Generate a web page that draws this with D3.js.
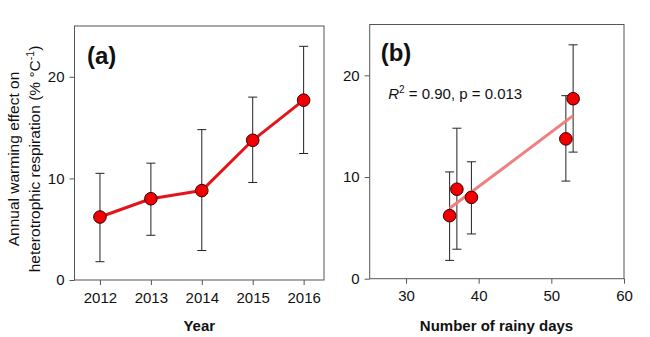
<!DOCTYPE html>
<html>
<head>
<meta charset="utf-8">
<script src="https://cdn.jsdelivr.net/npm/d3@7"></script>
<style>
  html, body { margin: 0; padding: 0; background: #fff; }
  svg { display: block; font-family: "Liberation Sans", Arial, sans-serif; }
</style>
</head>
<body>
<svg id="chart" width="650" height="337"></svg>
<script>
// Annual warming effect on heterotrophic respiration (% per °C), 2012–2016
const years = [2012, 2013, 2014, 2015, 2016];
const effect = [6.2, 8.0, 8.8, 13.75, 17.7];
const effectLow = [1.8, 4.4, 2.9, 9.6, 12.45];
const effectHigh = [10.5, 11.5, 14.8, 18.0, 23.0];
const rainyDays = [36, 39, 37, 52, 53];
const yTicks = [0, 10, 20];
const rainyTicks = [30, 40, 50, 60];
const fitText = "= 0.90, p = 0.013";

const svg = d3.select("#chart");
const frameColor = "#555";
const tickFont = "15px";

function drawFrame(g, x0, x1, y0, y1) {
  g.append("rect")
    .attr("x", x0).attr("y", y0)
    .attr("width", x1 - x0).attr("height", y1 - y0)
    .attr("fill", "none").attr("stroke", frameColor).attr("stroke-width", 1);
}

function styleAxis(sel) {
  sel.select(".domain").remove();
  sel.selectAll(".tick line").attr("stroke", frameColor);
  sel.selectAll(".tick text")
    .attr("fill", "#111")
    .style("font-size", tickFont)
    .style("font-family", "'Liberation Sans', Arial, sans-serif");
}

function errorBars(g, xs, x, y) {
  const cap = 4.5;
  const eb = g.append("g").attr("stroke", "#222").attr("stroke-width", 1);
  xs.forEach((xv, i) => {
    const cx = x(xv);
    eb.append("line").attr("x1", cx).attr("x2", cx)
      .attr("y1", y(effectLow[i])).attr("y2", y(effectHigh[i]));
    eb.append("line").attr("x1", cx - cap).attr("x2", cx + cap)
      .attr("y1", y(effectHigh[i])).attr("y2", y(effectHigh[i]));
    eb.append("line").attr("x1", cx - cap).attr("x2", cx + cap)
      .attr("y1", y(effectLow[i])).attr("y2", y(effectLow[i]));
  });
}

function markers(g, xs, x, y) {
  g.append("g").selectAll("circle")
    .data(xs)
    .join("circle")
    .attr("cx", d => x(d))
    .attr("cy", (d, i) => y(effect[i]))
    .attr("r", 6.3)
    .attr("fill", "#f00000")
    .attr("stroke", "#3a0000")
    .attr("stroke-width", 1);
}

// ---------- Panel (a): effect by year ----------
{
  const L = 74.5, R = 324, T = 26, B = 280;
  const g = svg.append("g");
  const x = d3.scaleLinear().domain([2011.5, 2016.4]).range([L, R]);
  const y = d3.scaleLinear().domain([0, 25]).range([B, T]);

  drawFrame(g, L, R, T, B);

  g.append("g").attr("transform", `translate(0,${B})`)
    .call(d3.axisBottom(x).tickValues(years).tickFormat(d3.format("d")).tickSize(5).tickPadding(7))
    .call(styleAxis);
  g.append("g").attr("transform", `translate(${L},0)`)
    .call(d3.axisLeft(y).tickValues(yTicks).tickSize(5).tickPadding(5))
    .call(styleAxis);

  errorBars(g, years, x, y);

  const line = d3.line().x((d, i) => x(years[i])).y(d => y(d));
  g.append("path").datum(effect)
    .attr("d", line)
    .attr("fill", "none")
    .attr("stroke", "#e4141b")
    .attr("stroke-width", 3)
    .attr("stroke-linejoin", "round");

  markers(g, years, x, y);

  g.append("text").attr("x", L + 12.5).attr("y", T + 37.5)
    .attr("font-size", "24px").attr("font-weight", "bold").attr("fill", "#111")
    .text("(a)");

  g.append("text").attr("x", (L + R) / 2).attr("y", 331)
    .attr("text-anchor", "middle").attr("font-size", "15px").attr("font-weight", "bold").attr("fill", "#111")
    .text("Year");

  // two-line y axis title
  const yt = g.append("text")
    .attr("transform", `translate(19,${(T + B) / 2 + 6}) rotate(-90)`)
    .attr("text-anchor", "middle").attr("font-size", "15.5px").attr("fill", "#111");
  yt.append("tspan").attr("x", 0).attr("y", 0).text("Annual warming effect on");
  const l2 = yt.append("tspan").attr("x", 0).attr("y", 21);
  l2.append("tspan").text("heterotrophic respiration (% °C");
  l2.append("tspan").attr("dy", -6).attr("font-size", "10.5px").text("-1");
  l2.append("tspan").attr("dy", 6).text(")");
}

// ---------- Panel (b): effect vs number of rainy days ----------
{
  const L = 369.7, R = 624, T = 24.5, B = 278.7;
  const g = svg.append("g");
  const x = d3.scaleLinear().domain([25, 60]).range([L, R]);
  const y = d3.scaleLinear().domain([0, 25]).range([B, T]);

  drawFrame(g, L, R, T, B);

  g.append("g").attr("transform", `translate(0,${B})`)
    .call(d3.axisBottom(x).tickValues(rainyTicks).tickFormat(d3.format("d")).tickSize(5).tickPadding(7))
    .call(styleAxis);
  g.append("g").attr("transform", `translate(${L},0)`)
    .call(d3.axisLeft(y).tickValues(yTicks).tickSize(5).tickPadding(5))
    .call(styleAxis);

  errorBars(g, rainyDays, x, y);

  // least-squares fit of effect on rainy days
  const mx = d3.mean(rainyDays), my = d3.mean(effect);
  let sxy = 0, sxx = 0;
  rainyDays.forEach((d, i) => { sxy += (d - mx) * (effect[i] - my); sxx += (d - mx) ** 2; });
  const slope = sxy / sxx, icpt = my - slope * mx;
  const [xmin, xmax] = d3.extent(rainyDays);
  g.append("line")
    .attr("x1", x(xmin)).attr("y1", y(icpt + slope * xmin))
    .attr("x2", x(xmax)).attr("y2", y(icpt + slope * xmax))
    .attr("stroke", "#f08080").attr("stroke-width", 3);

  markers(g, rainyDays, x, y);

  g.append("text").attr("x", L + 11).attr("y", T + 36.5)
    .attr("font-size", "24px").attr("font-weight", "bold").attr("fill", "#111")
    .text("(b)");

  const rt = g.append("text").attr("x", L + 18.5).attr("y", 98.5)
    .attr("font-size", "15px").attr("fill", "#111");
  rt.append("tspan").attr("font-style", "italic").text("R");
  rt.append("tspan").attr("dy", -6).attr("font-size", "10px").text("2");
  rt.append("tspan").attr("dy", 6).text(" " + fitText);

  g.append("text").attr("x", 496.5).attr("y", 331)
    .attr("text-anchor", "middle").attr("font-size", "15px").attr("font-weight", "bold").attr("fill", "#111")
    .text("Number of rainy days");
}
</script>
</body>
</html>
